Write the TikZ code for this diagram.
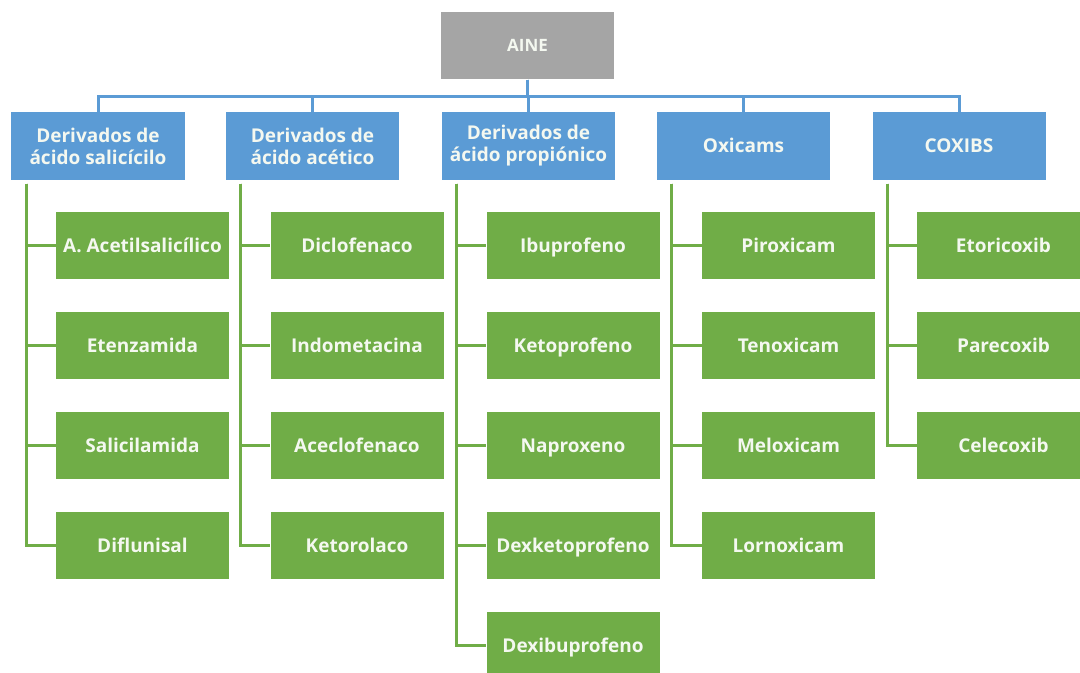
\documentclass[tikz,border=0pt]{standalone}
\usepackage{fontspec}
\setmainfont{Open Sans}
\definecolor{boxblue}{HTML}{5B9BD5}
\definecolor{boxgreen}{HTML}{70AD47}
\definecolor{boxgray}{HTML}{A5A5A5}
\definecolor{boxtext}{HTML}{F4F8F0}
\tikzset{
  base/.style={rectangle, minimum width=173bp, minimum height=67bp, inner sep=0pt,
    text=boxtext, font=\fontsize{19bp}{22bp}\selectfont\bfseries, align=center},
  rootbox/.style={base, fill=boxgray, font=\fontsize{17bp}{20bp}\selectfont\bfseries,
    text height=12bp, text depth=0.5bp},
  catbox/.style={base, fill=boxblue},
  onecat/.style={catbox, text height=14bp, text depth=0.5bp},
  drugbox/.style={base, fill=boxgreen, text height=14bp, text depth=0.5bp},
  bl/.style={draw=boxblue, line width=3bp},
  gl/.style={draw=boxgreen, line width=3bp},
}
\begin{document}
\begin{tikzpicture}[x=1bp,y=-1bp]
\useasboundingbox (0,0) rectangle (1080,673);
\begin{scope}
\clip (0,0) rectangle (1080,673);
\node[rootbox] (aine) at (527.5,46) {AINE};
\coordinate (bus) at (527.5,97);
\node[catbox] (c1) at (98,146) {Derivados de\\ácido salicícilo};
\node[catbox] (c2) at (312.5,146) {Derivados de\\ácido acético};
\node[catbox] (c3) at (528.5,146) {Derivados de\\ácido propiónico};
\node[onecat] (c4) at (743.5,146) {Oxicams};
\node[onecat] (c5) at (959,146) {COXIBS};
\foreach \c in {c1,c2,c3,c4,c5}
  \draw[bl] (aine.south) -- (aine.south |- bus) -| (\c.north);
% column 1
\node[drugbox] (g11) at (142.5,245.5) {A. Acetilsalicílico};
\node[drugbox] (g12) at (142.5,345.5) {Etenzamida};
\node[drugbox] (g13) at (142.5,445.5) {Salicilamida};
\node[drugbox] (g14) at (142.5,545.5) {Diflunisal};
% column 2
\node[drugbox] (g21) at (357,245.5) {Diclofenaco};
\node[drugbox] (g22) at (357,345.5) {Indometacina};
\node[drugbox] (g23) at (357,445.5) {Aceclofenaco};
\node[drugbox] (g24) at (357,545.5) {Ketorolaco};
% column 3
\node[drugbox] (g31) at (573,245.5) {Ibuprofeno};
\node[drugbox] (g32) at (573,345.5) {Ketoprofeno};
\node[drugbox] (g33) at (573,445.5) {Naproxeno};
\node[drugbox] (g34) at (573,545.5) {Dexketoprofeno};
\node[drugbox] (g35) at (573,645.5) {Dexibuprofeno};
% column 4
\node[drugbox] (g41) at (788.5,245.5) {Piroxicam};
\node[drugbox] (g42) at (788.5,345.5) {Tenoxicam};
\node[drugbox] (g43) at (788.5,445.5) {Meloxicam};
\node[drugbox] (g44) at (788.5,545.5) {Lornoxicam};
% column 5
\node[drugbox] (g51) at (1003.5,245.5) {Etoricoxib};
\node[drugbox] (g52) at (1003.5,345.5) {Parecoxib};
\node[drugbox] (g53) at (1003.5,445.5) {Celecoxib};
% connectors
\foreach \g in {g11,g12,g13,g14}
  \draw[gl] ([xshift=15bp,yshift=-4bp]c1.south west) |- (\g.west);
\foreach \g in {g21,g22,g23,g24}
  \draw[gl] ([xshift=15bp,yshift=-4bp]c2.south west) |- (\g.west);
\foreach \g in {g31,g32,g33,g34,g35}
  \draw[gl] ([xshift=15bp,yshift=-4bp]c3.south west) |- (\g.west);
\foreach \g in {g41,g42,g43,g44}
  \draw[gl] ([xshift=15bp,yshift=-4bp]c4.south west) |- (\g.west);
\foreach \g in {g51,g52,g53}
  \draw[gl] ([xshift=15bp,yshift=-4bp]c5.south west) |- (\g.west);
\end{scope}
\end{tikzpicture}
\end{document}
